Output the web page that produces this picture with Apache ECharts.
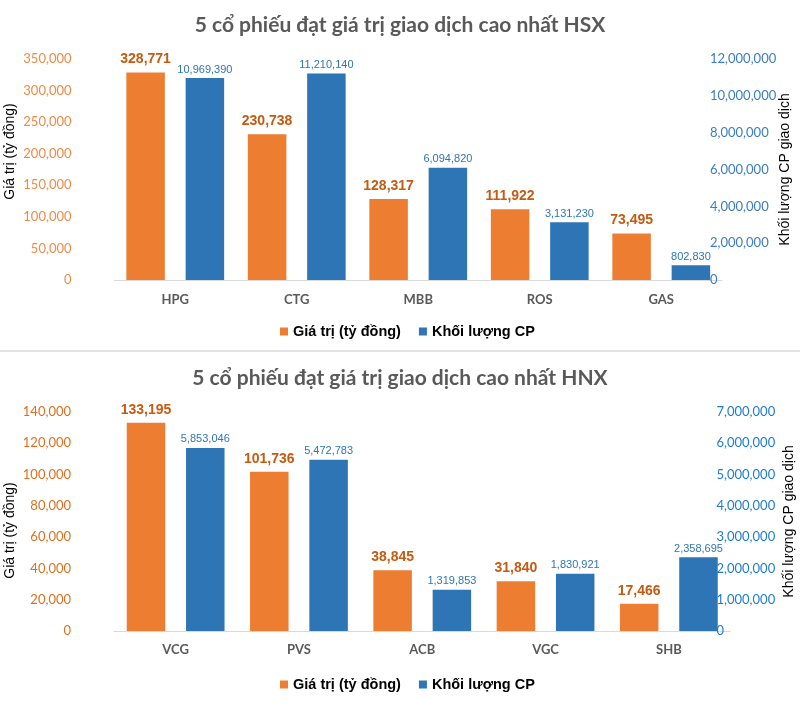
<!DOCTYPE html>
<html>
<head>
<meta charset="utf-8">
<script src="https://cdn.jsdelivr.net/npm/echarts@6/dist/echarts.min.js"></script>
<style>
html,body{margin:0;padding:0;background:#fff;}
#main{width:800px;height:728px;}
</style>
</head>
<body>
<div id="main"></div>
<script>
// ---- data ----
const titleHSX = '5 cổ phiếu đạt giá trị giao dịch cao nhất HSX';
const titleHNX = '5 cổ phiếu đạt giá trị giao dịch cao nhất HNX';
const seriesNames = ['Giá trị (tỷ đồng)', 'Khối lượng CP'];
const leftAxisName = 'Giá trị (tỷ đồng)';
const rightAxisName = 'Khối lượng CP giao dịch';

const categoriesHSX = ['HPG', 'CTG', 'MBB', 'ROS', 'GAS'];
const valueHSX = [328771, 230738, 128317, 111922, 73495];
const volumeHSX = [10969390, 11210140, 6094820, 3131230, 802830];
const leftTicksHSX = [0, 50000, 100000, 150000, 200000, 250000, 300000, 350000];
const rightTicksHSX = [0, 2000000, 4000000, 6000000, 8000000, 10000000, 12000000];

const categoriesHNX = ['VCG', 'PVS', 'ACB', 'VGC', 'SHB'];
const valueHNX = [133195, 101736, 38845, 31840, 17466];
const volumeHNX = [5853046, 5472783, 1319853, 1830921, 2358695];
const leftTicksHNX = [0, 20000, 40000, 60000, 80000, 100000, 120000, 140000];
const rightTicksHNX = [0, 1000000, 2000000, 3000000, 4000000, 5000000, 6000000, 7000000];

// ---- styling ----
const ORANGE = '#ED7D31';
const BLUE = '#2E75B6';
const fmt = v => Number(v).toLocaleString('en-US');
const ARIAL = "'Liberation Sans', Arial, sans-serif";
const CAL = "Lato, 'Open Sans', sans-serif";

const chart = echarts.init(document.getElementById('main'), null, {renderer: 'canvas'});

function yAx(gridIndex, ticks, color, pos, margin, name, nameGap, padding) {
  return {
    type: 'value', gridIndex, position: pos,
    min: ticks[0], max: ticks[ticks.length - 1], interval: ticks[1] - ticks[0],
    axisLine: {show: false}, axisTick: {show: false}, splitLine: {show: false},
    axisLabel: {color, fontFamily: CAL, fontSize: 13, margin, formatter: fmt},
    name, nameLocation: 'middle', nameRotate: 90, nameGap, nameMoveOverlap: false,
    nameTextStyle: {color: '#000', fontFamily: ARIAL, fontSize: 14, padding: padding}
  };
}
function xAx(gridIndex, cats, margin) {
  return {
    type: 'category', gridIndex, data: cats,
    axisLine: {lineStyle: {color: '#D9D9D9', width: 1}}, axisTick: {show: false},
    axisLabel: {color: '#595959', fontFamily: CAL, fontWeight: 'bold', fontSize: 13, margin}
  };
}
function bar(name, xi, yi, data, color, labelColor, labelSize, labelBold, dist) {
  return {
    type: 'bar', name, xAxisIndex: xi, yAxisIndex: yi, data,
    barWidth: 38.5, barGap: '54%',
    itemStyle: {color},
    label: {show: true, position: 'top', distance: dist, color: labelColor,
      fontFamily: ARIAL, fontSize: labelSize, fontWeight: labelBold ? 'bold' : 'normal',
      formatter: p => fmt(p.value)}
  };
}
function legend(top) {
  return {data: seriesNames, top, left: 275, itemWidth: 8, itemHeight: 8, itemGap: 18,
    icon: 'rect',
    textStyle: {color: '#000', fontFamily: ARIAL, fontSize: 14.5, fontWeight: 'bold'}};
}

const option = {
  animation: false,
  backgroundColor: '#fff',
  title: [
    {text: titleHSX, left: 'center', top: 10, textStyle: {color: '#595959', fontFamily: CAL, fontWeight: 'bold', fontSize: 21}},
    {text: titleHNX, left: 'center', top: 363, textStyle: {color: '#595959', fontFamily: CAL, fontWeight: 'bold', fontSize: 21}}
  ],
  legend: [legend(319), legend(672)],
  grid: [
    {left: 114.5, width: 607.5, top: 59, height: 221, outerBoundsMode: 'none', containLabel: false},
    {left: 114, width: 616.5, top: 412, height: 219, outerBoundsMode: 'none', containLabel: false}
  ],
  xAxis: [xAx(0, categoriesHSX, 13), xAx(1, categoriesHNX, 12)],
  yAxis: [
    yAx(0, leftTicksHSX, '#F08A45', 'left', 43, leftAxisName, 97, [0, 0, 0, 36]),
    yAx(0, rightTicksHSX, '#3B7DC4', 'right', -12, rightAxisName, 56, 0),
    yAx(1, leftTicksHNX, '#DF6F1F', 'left', 43, leftAxisName, 97, [0, 18, 0, 0]),
    yAx(1, rightTicksHNX, '#1F7CD2', 'right', -14, rightAxisName, 52, 0)
  ],
  series: [
    bar(seriesNames[0], 0, 0, valueHSX, ORANGE, '#C55A11', 14, true, 6),
    bar(seriesNames[1], 0, 1, volumeHSX, BLUE, BLUE, 11, false, 3),
    bar(seriesNames[0], 1, 2, valueHNX, ORANGE, '#C55A11', 14, true, 6),
    bar(seriesNames[1], 1, 3, volumeHNX, BLUE, BLUE, 11, false, 3)
  ],
  graphic: [
    {type: 'rect', left: 0, top: 350, shape: {width: 800, height: 2}, style: {fill: '#E3E3E3'}, silent: true}
  ]
};
chart.setOption(option);
</script>
</body>
</html>
